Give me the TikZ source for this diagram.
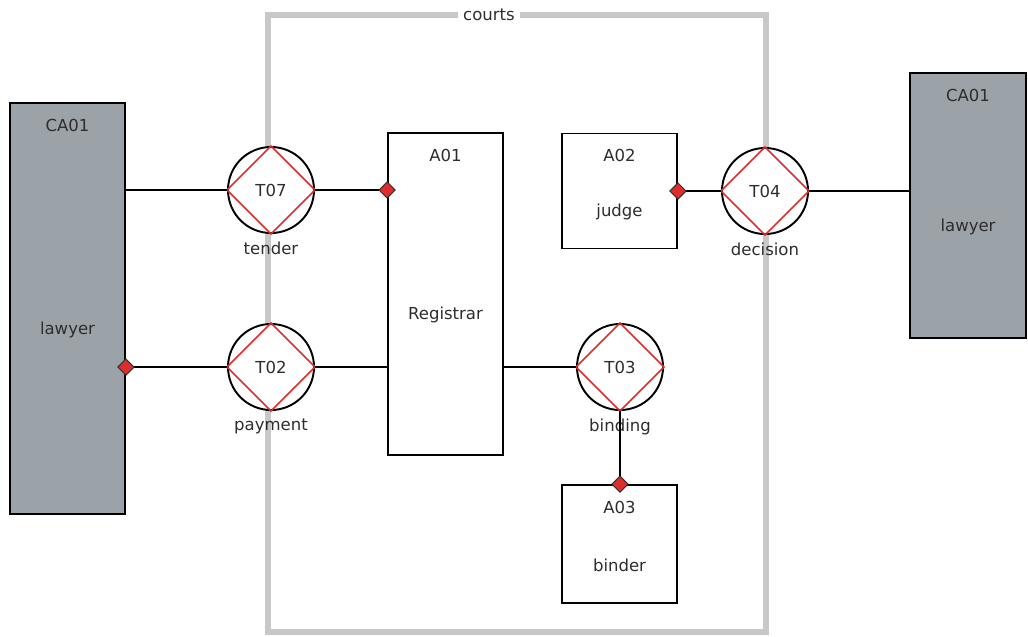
\documentclass[tikz,border=0pt]{standalone}
\usepackage{fontspec}
\setmainfont{DejaVu Sans}
\usetikzlibrary{positioning,shapes.geometric}
\definecolor{lawyergray}{RGB}{155,163,168}
\definecolor{framegray}{RGB}{200,200,200}
\definecolor{transred}{RGB}{222,45,45}
\definecolor{textgray}{RGB}{45,45,45}

\begin{document}
\begin{tikzpicture}[
    font=\fontsize{9.4}{11}\selectfont, text=textgray,
    actor/.style={draw, line width=1.1pt, minimum width=2.3cm, inner sep=0pt},
    trans/.style={circle, draw, line width=1.1pt, fill=white, minimum size=1.72cm, inner sep=0pt},
    link/.style={line width=1.1pt},
    knob/.style={diamond, draw=black!80, fill=transred, minimum size=0.33cm, inner sep=0pt, line width=0.6pt}
]
\useasboundingbox (0,0) rectangle (20.56,-12.72);

% courts boundary
\draw[framegray, line width=3.3pt] (5.36,-0.30) rectangle (15.32,-12.64);
\node[fill=white, inner sep=3pt] (courts) at (9.78,-0.30) {courts};

% actor roles
\node[actor, fill=lawyergray, minimum height=8.22cm] (lawyerL) at (1.35,-6.17) {};
\node[actor, fill=lawyergray, minimum width=2.32cm, minimum height=5.3cm] (lawyerR) at (19.36,-4.11) {};
\node[actor, minimum height=6.44cm] (a01) at (8.91,-5.88) {};
\node[actor, minimum height=2.3cm] (a02) at (12.39,-3.82) {};
\node[actor, minimum height=2.36cm] (a03) at (12.39,-10.88) {};

\foreach \act/\id/\role in {lawyerL/CA01/lawyer, lawyerR/CA01/lawyer, a01/A01/Registrar, a02/A02/judge, a03/A03/binder} {
    \node (\act id) at ([yshift=-0.46cm]\act.north) {\id};
    \node (\act role) at ([yshift=-0.42cm]\act.center) {\role};
}

% transactions
\foreach \nm/\id/\pos/\lab in {t07/T07/{5.42,-3.80}/tender, t02/T02/{5.42,-7.34}/payment,
                               t03/T03/{12.40,-7.34}/binding, t04/T04/{15.30,-3.82}/decision} {
    \node[trans] (\nm) at (\pos) {\id};
    \draw[transred, line width=0.9pt] (\nm.north) -- (\nm.east) -- (\nm.south) -- (\nm.west) -- cycle;
    \node[below=1pt of \nm] (\nm lab) {\lab};
}

% links
\draw[link] (t07.west) -- (t07.west -| lawyerL.east);
\draw[link] (t07.east) -- (t07.east -| a01.west) node[knob] (k07) {};
\draw[link] (t02.west) -- (t02.west -| lawyerL.east) node[knob] (k02) {};
\draw[link] (t02.east) -- (t02.east -| a01.west);
\draw[link] (a01.east |- t03.west) -- (t03.west);
\draw[link] (t03.south) -- (t03.south |- a03.north) node[knob] (k03) {};
\draw[link] (t04.west) -- (t04.west -| a02.east) node[knob] (k04) {};
\draw[link] (t04.east) -- (t04.east -| lawyerR.west);
\end{tikzpicture}
\end{document}
